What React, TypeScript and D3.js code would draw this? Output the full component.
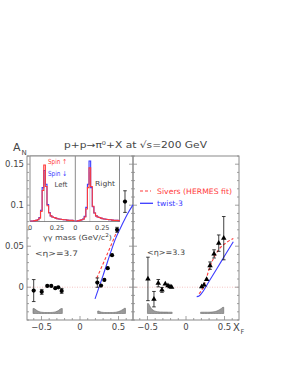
import React from "react";
import * as d3 from "d3";

// ---- axis ticks ----
const yMajor = [0, 0.05, 0.1, 0.15];
const yMajorLabels = ["0", "0.05", "0.1", "0.15"];
const xMajor = [-0.5, 0, 0.5];
const xMajorLabels = ["\u22120.5", "0", "0.5"];
const insetTicks = [0, 0.25];
const insetTickLabels = ["0", "0.25"];

// ---- <eta> = 3.7 (circles, left panel) ----
const eta37Xf = [-0.601, -0.497, -0.425, -0.373, -0.321, -0.282, -0.238, 0.225, 0.273, 0.316, 0.36, 0.416, 0.481, 0.584];
const eta37An = [-0.0041, -0.0057, 0.0016, 0.0016, -0.0012, -0.0002, -0.0045, 0.0056, 0.002, 0.0089, 0.0232, 0.039, 0.07, 0.1044];
const eta37Err = [0.0134, 0.003, 0.0018, 0.0015, 0.0015, 0.0015, 0.003, 0.0057, 0.0018, 0.0018, 0.002, 0.002, 0.003, 0.0132];

// ---- <eta> = 3.3 (triangles, right panel) ----
const eta33Xf = [-0.494, -0.416, -0.36, -0.312, -0.269, -0.234, -0.208, -0.186, 0.204, 0.234, 0.268, 0.312, 0.364, 0.425, 0.49];
const eta33An = [0.0101, -0.0146, 0.0049, -0.0033, 0.004, 0.002, 0.0007, 0.0, 0.0007, 0.0028, 0.0096, 0.0263, 0.0406, 0.0537, 0.0598];
const eta33Err = [0.0265, 0.0094, 0.0045, 0.003, 0.0015, 0.001, 0.001, 0.001, 0.002, 0.002, 0.002, 0.0045, 0.005, 0.01, 0.0264];

// ---- theory curves ----
const siversLX = [0.217, 0.32, 0.432, 0.477];
const siversLY = [0.011, 0.033, 0.0577, 0.068];
const twist3LX = [0.195, 0.3, 0.4, 0.455, 0.55, 0.62, 0.688];
const twist3LY = [-0.0143, 0.0145, 0.043, 0.0577, 0.077, 0.09, 0.1004];
const siversRX = [0.17, 0.225, 0.312, 0.42, 0.52, 0.614];
const siversRY = [-0.008, 0.0, 0.0251, 0.0453, 0.054, 0.0595];
const twist3RX = [0.139, 0.17, 0.204, 0.3, 0.4, 0.5, 0.614];
const twist3RY = [-0.0115, -0.0107, -0.0073, 0.0073, 0.0225, 0.038, 0.0555];

// ---- acceptance histograms (arbitrary units), bin width 0.02 ----
const accStep = 0.02;
const accLNegStart = -0.61;
const accLNeg = [5, 4.2, 3, 2.2, 1.6, 1.3, 1.1, 1, 1, 1, 1, 1, 1.1, 1.3, 1.6, 2.2, 3, 4.2, 5];
const accLPosStart = 0.23;
const accLPos = [2.5, 1.8, 1.3, 1.1, 1, 1, 1, 1, 1, 1, 1.1, 1.2, 1.5, 1.9, 2.5, 3.3, 4.2, 5.2];
const accRNegStart = -0.5;
const accRNeg = [10, 7.5, 5, 3.5, 2.6, 2.1, 1.8, 1.6, 1.5, 1.5, 1.4, 1.4, 1.4, 1.3, 1.3, 1.3];
const accRPosStart = 0.19;
const accRPos = [1.3, 1.3, 1.3, 1.3, 1.3, 1.3, 1.4, 1.5, 1.7, 2, 2.5, 3.2, 4.1, 5.1, 6.2];

// ---- inset: gamma-gamma mass histograms (normalised counts) ----
const massStart = 0.0075;
const massStep = 0.015;
const pi0Mass = 0.135;
const leftSpinUp = [0.01, 0.01, 0.015, 0.02, 0.03, 0.06, 0.18, 0.55, 1.0, 0.62, 0.28, 0.15, 0.1, 0.08, 0.07, 0.06, 0.05, 0.045, 0.04, 0.035, 0.03, 0.03, 0.025, 0.02, 0.02, 0.02, 0.015];
const leftSpinDown = [0.01, 0.01, 0.015, 0.02, 0.03, 0.07, 0.2, 0.6, 0.9, 0.66, 0.3, 0.16, 0.1, 0.08, 0.07, 0.06, 0.05, 0.045, 0.04, 0.035, 0.03, 0.03, 0.025, 0.02, 0.02, 0.02, 0.015];
const rightSpinUp = [0.01, 0.015, 0.02, 0.03, 0.04, 0.08, 0.22, 0.6, 0.95, 0.62, 0.27, 0.15, 0.1, 0.08, 0.07, 0.06, 0.05, 0.045, 0.04, 0.035, 0.03, 0.03, 0.025, 0.02, 0.02, 0.02, 0.015];
const rightSpinDown = [0.01, 0.015, 0.02, 0.03, 0.045, 0.09, 0.25, 0.66, 1.07, 0.6, 0.26, 0.15, 0.1, 0.08, 0.07, 0.06, 0.05, 0.045, 0.04, 0.035, 0.03, 0.03, 0.025, 0.02, 0.02, 0.02, 0.015];

const RED = "#ff3b3b";
const BLUE = "#3b3bff";
const AX = "#8a8a8a";
const TXT = "#454545";
const FONT = "DejaVu Sans, sans-serif";

export default function App() {
  const y = d3.scaleLinear().domain([-0.04, 0.16]).range([320, 156]);
  const xL = d3.scaleLinear().domain([-0.688, 0.688]).range([27, 133]);
  const xR = d3.scaleLinear().domain([-0.688, 0.688]).range([133, 239]);
  const acc = d3.scaleLinear().domain([0, 10]).range([313.5, 303.5]);

  const mL = d3.scaleLinear().domain([0, 0.42]).range([30, 75.3]);
  const mR = d3.scaleLinear().domain([0, 0.41]).range([75.3, 119.5]);
  const cnt = d3.scaleLinear().domain([0, 1]).range([221.5, 165]);

  const yMinor = d3.range(-4, 17).map((i) => i * 0.01);
  const xMinor = d3.range(-6, 7).map((i) => i * 0.1);

  const curve = (xs: number[], ys: number[], sx: d3.ScaleLinear<number, number>) =>
    d3.line<number>().x((_, i) => sx(xs[i])).y((_, i) => y(ys[i])).curve(d3.curveMonotoneX)(xs) || "";

  const accArea = (start: number, vals: number[], sx: d3.ScaleLinear<number, number>) => {
    const pts: [number, number][] = [[start, vals[0]]];
    vals.forEach((v, i) => pts.push([start + (i + 0.5) * accStep, v]));
    pts.push([start + vals.length * accStep, vals[vals.length - 1]]);
    return d3.area<[number, number]>().x((d) => sx(d[0])).y0(acc(0)).y1((d) => acc(d[1])).curve(d3.curveMonotoneX)(pts) || "";
  };

  const massHist = (vals: number[], sx: d3.ScaleLinear<number, number>) => {
    const pts: [number, number][] = [[massStart, 0]];
    vals.forEach((v, i) => pts.push([massStart + i * massStep, v]));
    pts.push([massStart + vals.length * massStep, vals[vals.length - 1]]);
    return d3.line<[number, number]>().x((d) => sx(d[0])).y((d) => cnt(d[1])).curve(d3.curveStepAfter)(pts) || "";
  };

  const errBars = (xs: number[], ys: number[], es: number[], sx: d3.ScaleLinear<number, number>) =>
    xs.map((xv, i) => {
      const cx = sx(xv);
      const y1 = y(ys[i] + es[i]);
      const y2 = y(ys[i] - es[i]);
      const cap = es[i] > 0.0025 ? 1.8 : 0;
      return (
        <g key={i} stroke="#111" strokeWidth={0.8}>
          <line x1={cx} x2={cx} y1={y1} y2={y2} />
          {cap > 0 && <line x1={cx - cap} x2={cx + cap} y1={y1} y2={y1} />}
          {cap > 0 && <line x1={cx - cap} x2={cx + cap} y1={y2} y2={y2} />}
        </g>
      );
    });

  const tri = d3.symbol().type(d3.symbolTriangle).size(13)() || "";

  const panelFrame = (x0: number, x1: number, sx: d3.ScaleLinear<number, number>, key: string) => (
    <g key={key}>
      <rect x={x0} y={156} width={x1 - x0} height={164} fill="none" stroke={AX} strokeWidth={1} />
      {yMinor.map((v) => {
        const major = yMajor.some((m) => Math.abs(m - v) < 1e-6);
        const len = major ? 4 : 2;
        return (
          <g key={v} stroke={AX} strokeWidth={0.8}>
            <line x1={x0} x2={x0 + len} y1={y(v)} y2={y(v)} />
            <line x1={x1} x2={x1 - len} y1={y(v)} y2={y(v)} />
          </g>
        );
      })}
      {xMinor.map((v) => {
        const major = xMajor.some((m) => Math.abs(m - v) < 1e-6);
        const len = major ? 4 : 2;
        return <line key={v} x1={sx(v)} x2={sx(v)} y1={320} y2={320 - len} stroke={AX} strokeWidth={0.8} />;
      })}
      {xMajor.map((v, i) => (
        <text key={"l" + v} x={sx(v)} y={330} fontSize={8.5} textAnchor="middle" fill={TXT} fontFamily={FONT}>
          {xMajorLabels[i]}
        </text>
      ))}
    </g>
  );

  return (
    <svg width={287} height={371} style={{ position: "absolute", left: 0, top: 0, background: "#fff" }}>
      <rect x={0} y={0} width={287} height={371} fill="#fff" />

      {/* zero line */}
      <line x1={27} x2={239} y1={y(0)} y2={y(0)} stroke="#f09a9a" strokeWidth={0.6} strokeDasharray="1,1.5" />

      {/* acceptance histograms */}
      <g fill="#9a9a9a" stroke="#6a6a6a" strokeWidth={0.6}>
        <path d={accArea(accLNegStart, accLNeg, xL)} />
        <path d={accArea(accLPosStart, accLPos, xL)} />
        <path d={accArea(accRNegStart, accRNeg, xR)} />
        <path d={accArea(accRPosStart, accRPos, xR)} />
      </g>

      {panelFrame(27, 133, xL, "L")}
      {panelFrame(133, 239, xR, "R")}

      {/* y tick labels */}
      {yMajor.map((v, i) => (
        <text key={v} x={24} y={y(v) + 3} fontSize={8.5} textAnchor="end" fill={TXT} fontFamily={FONT}>
          {yMajorLabels[i]}
        </text>
      ))}

      {/* theory curves */}
      <path d={curve(twist3LX, twist3LY, xL)} fill="none" stroke={BLUE} strokeWidth={1.1} />
      <path d={curve(siversLX, siversLY, xL)} fill="none" stroke={RED} strokeWidth={1.1} strokeDasharray="3,2" />
      <path d={curve(twist3RX, twist3RY, xR)} fill="none" stroke={BLUE} strokeWidth={1.1} />
      <path d={curve(siversRX, siversRY, xR)} fill="none" stroke={RED} strokeWidth={1.1} strokeDasharray="3,2" />

      {/* data */}
      {errBars(eta37Xf, eta37An, eta37Err, xL)}
      {eta37Xf.map((xv, i) => (
        <circle key={i} cx={xL(xv)} cy={y(eta37An[i])} r={2.1} fill="#000" />
      ))}
      {errBars(eta33Xf, eta33An, eta33Err, xR)}
      {eta33Xf.map((xv, i) => (
        <path key={i} d={tri} transform={`translate(${xR(xv)},${y(eta33An[i])})`} fill="#000" />
      ))}

      {/* eta labels */}
      <text x={35} y={256} fontSize={7.5} fill={TXT} fontFamily={FONT} textLength={43} lengthAdjust="spacingAndGlyphs">
        {"<\u03b7>=3.7"}
      </text>
      <text x={147} y={255} fontSize={7.5} fill={TXT} fontFamily={FONT} textLength={38} lengthAdjust="spacingAndGlyphs">
        {"<\u03b7>=3.3"}
      </text>

      {/* legend */}
      <line x1={140} x2={151} y1={191} y2={191} stroke={RED} strokeWidth={1.1} strokeDasharray="3,2" />
      <text x={157} y={194} fontSize={7.5} fill={RED} fontFamily={FONT} textLength={75} lengthAdjust="spacingAndGlyphs">
        Sivers (HERMES fit)
      </text>
      <line x1={140} x2={153} y1={203.3} y2={203.3} stroke={BLUE} strokeWidth={1.3} />
      <text x={157} y={206} fontSize={7.5} fill={BLUE} fontFamily={FONT} textLength={26} lengthAdjust="spacingAndGlyphs">
        twist-3
      </text>

      {/* inset */}
      <rect x={30} y={156} width={89.5} height={65.5} fill="#fff" stroke={AX} strokeWidth={1} />
      <line x1={75.3} x2={75.3} y1={156} y2={221.5} stroke={AX} strokeWidth={1} />
      <line x1={mL(pi0Mass)} x2={mL(pi0Mass)} y1={221.5} y2={172} stroke="#777" strokeWidth={0.7} strokeDasharray="1,1" />
      <line x1={mR(pi0Mass)} x2={mR(pi0Mass)} y1={221.5} y2={172} stroke="#777" strokeWidth={0.7} strokeDasharray="1,1" />
      <path d={massHist(leftSpinDown, mL)} fill="none" stroke={BLUE} strokeWidth={1.1} />
      <path d={massHist(leftSpinUp, mL)} fill="none" stroke={RED} strokeWidth={1.1} />
      <path d={massHist(rightSpinDown, mR)} fill="none" stroke={BLUE} strokeWidth={1.1} />
      <path d={massHist(rightSpinUp, mR)} fill="none" stroke={RED} strokeWidth={1.1} />
      {insetTicks.map((v, i) => (
        <g key={v}>
          <text x={mL(v)} y={229.5} fontSize={6.5} textAnchor="middle" fill={TXT} fontFamily={FONT}>
            {insetTickLabels[i]}
          </text>
          <text x={mR(v)} y={229.5} fontSize={6.5} textAnchor="middle" fill={TXT} fontFamily={FONT}>
            {insetTickLabels[i]}
          </text>
        </g>
      ))}
      <text x={43} y={239.5} fontSize={7} fill={TXT} fontFamily={FONT} textLength={69} lengthAdjust="spacingAndGlyphs">
        {"\u03b3\u03b3 mass (GeV/c"}
        <tspan fontSize={5} dy={-2.5}>2</tspan>
        <tspan dy={2.5}>)</tspan>
      </text>
      <text x={48} y={164} fontSize={7} fill={RED} fontFamily={FONT} textLength={19} lengthAdjust="spacingAndGlyphs">
        {"Spin \u2191"}
      </text>
      <text x={48} y={175.5} fontSize={7} fill={BLUE} fontFamily={FONT} textLength={19} lengthAdjust="spacingAndGlyphs">
        {"Spin \u2193"}
      </text>
      <text x={54.5} y={187} fontSize={7} fill={TXT} fontFamily={FONT} textLength={13} lengthAdjust="spacingAndGlyphs">
        Left
      </text>
      <text x={95} y={186} fontSize={7} fill={TXT} fontFamily={FONT} textLength={20} lengthAdjust="spacingAndGlyphs">
        Right
      </text>

      {/* title and axis titles */}
      <text x={64} y={148} fontSize={9} fill={TXT} fontFamily={FONT} textLength={143} lengthAdjust="spacingAndGlyphs">
        {"p+p\u2192\u03c0"}
        <tspan fontSize={5.5} dy={-3.5}>0</tspan>
        <tspan dy={3.5}>{"+X at \u221as=200 GeV"}</tspan>
      </text>
      <text x={13} y={151} fontSize={11} fill={TXT} fontFamily={FONT}>A</text>
      <text x={21.5} y={155} fontSize={7} fill={TXT} fontFamily={FONT}>N</text>
      <text x={233} y={331} fontSize={10} fill={TXT} fontFamily={FONT}>X</text>
      <text x={240.5} y={334} fontSize={6.5} fill={TXT} fontFamily={FONT}>F</text>
    </svg>
  );
}
